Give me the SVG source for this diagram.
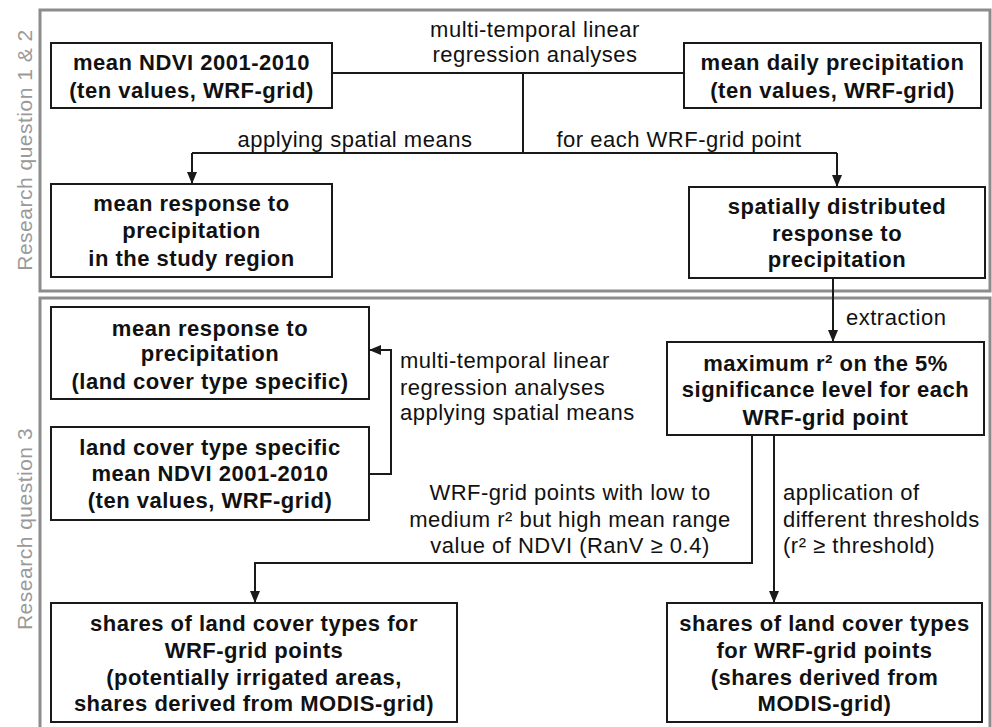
<svg xmlns="http://www.w3.org/2000/svg" width="992" height="727" viewBox="0 0 992 727">
<defs>
<style>
.panel{fill:none;stroke:#8c8c8c;stroke-width:3}
.box{fill:#fff;stroke:#1a1a1a;stroke-width:2}
.b{font-family:"Liberation Sans",Arial,sans-serif;font-size:22px;font-weight:bold;fill:#111;text-anchor:middle;letter-spacing:0.5px}
.n{font-family:"Liberation Sans",Arial,sans-serif;font-size:22px;fill:#111;letter-spacing:0.5px}
.side{font-family:"Liberation Sans",Arial,sans-serif;font-size:21px;fill:#9a9a9a;text-anchor:middle;letter-spacing:0.5px}
.c{fill:none;stroke:#1a1a1a;stroke-width:2}
</style>
<marker id="ah" markerUnits="userSpaceOnUse" markerWidth="12" markerHeight="12" viewBox="0 0 12 12" refX="12" refY="6" orient="auto">
<path d="M0,1 L12,6 L0,11 Z" fill="#1a1a1a"/>
</marker>
</defs>
<rect width="992" height="727" fill="#fff"/>
<g id="panel1">
<rect class="panel" x="40" y="10" width="950" height="281"/>
<text class="side" transform="translate(32,150) rotate(-90)">Research question 1 &amp; 2</text>
</g>
<g id="panel2">
<rect class="panel" x="40" y="298" width="950" height="440"/>
<text class="side" transform="translate(32,529) rotate(-90)">Research question 3</text>
</g>
<g id="connectors">
<path class="c" d="M332,73 H684"/>
<path class="c" d="M523,73 V153"/>
<path class="c" d="M192,153 H837"/>
<path class="c" d="M192,153 V184" marker-end="url(#ah)"/>
<path class="c" d="M837,153 V187" marker-end="url(#ah)"/>
<path class="c" d="M833,278 V342" marker-end="url(#ah)"/>
<path class="c" d="M752,435 V563 H255 V603" marker-end="url(#ah)"/>
<path class="c" d="M774,435 V603" marker-end="url(#ah)"/>
<path class="c" d="M369,474 H391 V350 H369" marker-end="url(#ah)"/>
<text class="n" x="535" y="37" text-anchor="middle">multi-temporal linear</text>
<text class="n" x="535" y="62" text-anchor="middle">regression analyses</text>
<text class="n" x="355" y="147" text-anchor="middle">applying spatial means</text>
<text class="n" x="679" y="147" text-anchor="middle">for each WRF-grid point</text>
<text class="n" x="846" y="325">extraction</text>
<text class="n" x="400" y="368">multi-temporal linear</text>
<text class="n" x="400" y="395">regression analyses</text>
<text class="n" x="400" y="420">applying spatial means</text>
<text class="n" x="570" y="500" text-anchor="middle">WRF-grid points with low to</text>
<text class="n" x="570" y="527" text-anchor="middle">medium r² but high mean range</text>
<text class="n" x="570" y="553" text-anchor="middle">value of NDVI (RanV ≥ 0.4)</text>
<text class="n" x="783" y="500">application of</text>
<text class="n" x="783" y="527">different thresholds</text>
<text class="n" x="783" y="553">(r² ≥ threshold)</text>
</g>
<g id="ndvi">
<rect class="box" x="51" y="43" width="281" height="65"/>
<text class="b" x="191.5" y="70">mean NDVI 2001-2010</text>
<text class="b" x="191.5" y="98">(ten values, WRF-grid)</text>
</g>
<g id="precip">
<rect class="box" x="684" y="43" width="297" height="65"/>
<text class="b" x="832.5" y="70">mean daily precipitation</text>
<text class="b" x="832.5" y="98">(ten values, WRF-grid)</text>
</g>
<g id="meanresp">
<rect class="box" x="51" y="184" width="281" height="93"/>
<text class="b" x="191.5" y="211">mean response to</text>
<text class="b" x="191.5" y="238">precipitation</text>
<text class="b" x="191.5" y="266">in the study region</text>
</g>
<g id="spatresp">
<rect class="box" x="689" y="187" width="296" height="91"/>
<text class="b" x="837" y="214">spatially distributed</text>
<text class="b" x="837" y="241">response to</text>
<text class="b" x="837" y="267">precipitation</text>
</g>
<g id="maxr2">
<rect class="box" x="667" y="342" width="317" height="93"/>
<text class="b" x="825.5" y="371">maximum r² on the 5%</text>
<text class="b" x="825.5" y="397">significance level for each</text>
<text class="b" x="825.5" y="425">WRF-grid point</text>
</g>
<g id="lcresp">
<rect class="box" x="51" y="307" width="318" height="92"/>
<text class="b" x="210" y="336">mean response to</text>
<text class="b" x="210" y="361">precipitation</text>
<text class="b" x="210" y="389">(land cover type specific)</text>
</g>
<g id="lcndvi">
<rect class="box" x="51" y="427" width="318" height="93"/>
<text class="b" x="210" y="455">land cover type specific</text>
<text class="b" x="210" y="481">mean NDVI 2001-2010</text>
<text class="b" x="210" y="508">(ten values, WRF-grid)</text>
</g>
<g id="sharesirr">
<rect class="box" x="51" y="603" width="406" height="119"/>
<text class="b" x="254" y="631">shares of land cover types for</text>
<text class="b" x="254" y="658">WRF-grid points</text>
<text class="b" x="254" y="685">(potentially irrigated areas,</text>
<text class="b" x="254" y="711">shares derived from MODIS-grid)</text>
</g>
<g id="shares">
<rect class="box" x="667" y="603" width="315" height="119"/>
<text class="b" x="824.5" y="631">shares of land cover types</text>
<text class="b" x="824.5" y="658">for WRF-grid points</text>
<text class="b" x="824.5" y="685">(shares derived from</text>
<text class="b" x="824.5" y="711">MODIS-grid)</text>
</g>
</svg>
